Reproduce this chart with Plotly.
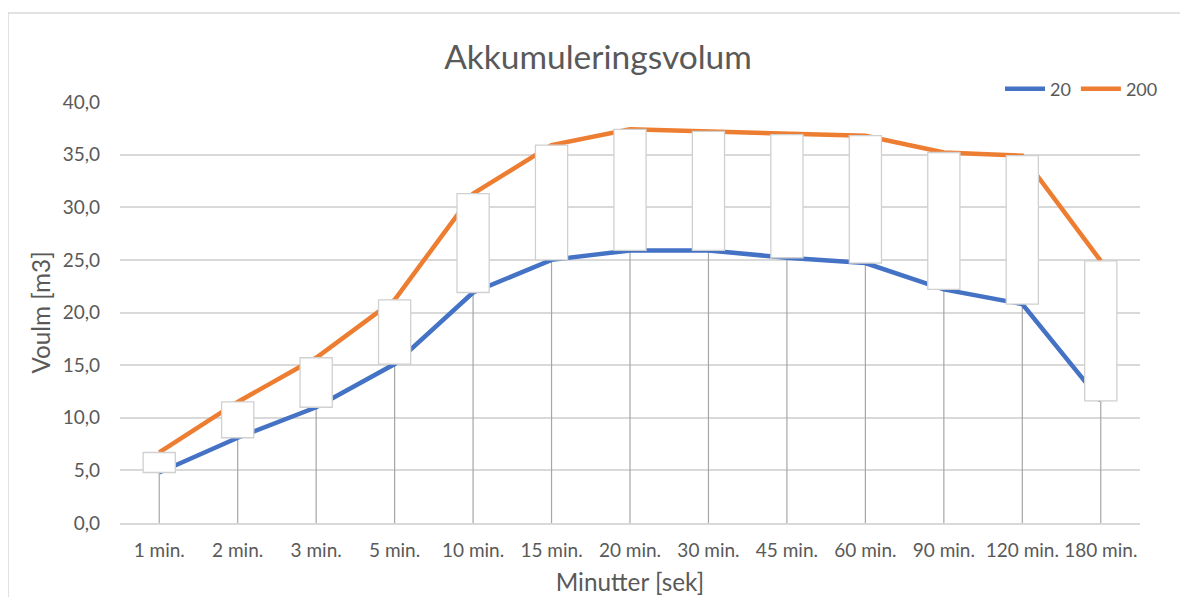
import plotly.graph_objects as go

categories = ["1 min.", "2 min.", "3 min.", "5 min.", "10 min.", "15 min.", "20 min.",
              "30 min.", "45 min.", "60 min.", "90 min.", "120 min.", "180 min."]
series_20 = [4.8, 8.1, 11.0, 15.1, 21.9, 25.0, 25.9, 25.9, 25.2, 24.7, 22.2, 20.8, 11.6]
series_200 = [6.7, 11.5, 15.7, 21.2, 31.3, 35.9, 37.4, 37.2, 36.9, 36.8, 35.2, 34.9, 24.9]
y_ticks = [0, 5, 10, 15, 20, 25, 30, 35, 40]

FONT = "Lato"
GREY_TXT = "#595959"
GRID = "#d9d9d9"

# page body has an 8px margin; figure is sized to fit the window
OFF = 8
W, H = 1188 - OFF, 597 - OFF
# plot area in screen pixels
PX0, PX1, PY0, PY1 = 120, 1140, 102, 523
ML = PX0 - OFF
MR = W - (PX1 - OFF)
MT = PY0 - OFF
MB = H - (PY1 - OFF)

def px_x(px):
    return (px - PX0) / (PX1 - PX0)

def px_y(py):
    return (PY1 - py) / (PY1 - PY0)

fig = go.Figure()

# drop lines (from axis up to the lower series)
fig.add_trace(go.Scatter(
    x=categories, y=series_20, mode="markers",
    marker=dict(size=1, opacity=0),
    error_y=dict(type="data", symmetric=False, array=[0] * len(series_20),
                 arrayminus=series_20, color="#a6a6a6", thickness=1.2, width=0),
    showlegend=False, hoverinfo="skip"))

fig.add_trace(go.Scatter(x=categories, y=series_20, mode="lines", name="20",
                         line=dict(color="#4472C4", width=4.5)))
fig.add_trace(go.Scatter(x=categories, y=series_200, mode="lines", name="200",
                         line=dict(color="#ED7D31", width=4.5)))

# up-down bars, on an overlaid copy of the axes so they sit above the lines
fig.add_trace(go.Bar(
    x=categories, base=series_20,
    y=[b - a for a, b in zip(series_20, series_200)],
    width=0.41, marker=dict(color="white", line=dict(color="#d0d0d0", width=1.3)),
    showlegend=False, hoverinfo="skip", xaxis="x2", yaxis="y2"))

fig.update_layout(
    width=W, height=H,
    margin=dict(l=ML, r=MR, t=MT, b=MB, autoexpand=False),
    paper_bgcolor="white", plot_bgcolor="white",
    separators=",.",
    font=dict(family=FONT, color=GREY_TXT),
    title=dict(text="Akkumuleringsvolum", x=0.5, xref="container", xanchor="center",
               y=1 - (57 - OFF) / H, yanchor="middle",
               font=dict(size=33.5, color=GREY_TXT, family=FONT)),
    legend=dict(orientation="h", x=px_x(1163), xanchor="right", y=px_y(89), yanchor="middle",
                font=dict(size=18, color=GREY_TXT), itemwidth=40, bgcolor="rgba(0,0,0,0)"),
    showlegend=True,
    xaxis=dict(type="category", range=[-0.5, len(categories) - 0.5], automargin=False,
               showgrid=False, showline=True, linecolor=GRID, linewidth=1.5,
               ticks="", tickfont=dict(size=19, color=GREY_TXT), ticklabelstandoff=9,
               title=dict(text="Minutter [sek]", font=dict(size=24.3, color=GREY_TXT), standoff=14)),
    yaxis=dict(range=[0, 40], tickvals=y_ticks, tickformat=".1f", automargin=False,
               showgrid=True, gridcolor=GRID, gridwidth=1.5, zeroline=False,
               showline=False, ticks="", ticklabelstandoff=19,
               tickfont=dict(size=19, color=GREY_TXT),
               title=dict(text="Voulm [m3]", font=dict(size=24.3, color=GREY_TXT), standoff=5)),
    xaxis2=dict(type="category", overlaying="x", range=[-0.5, len(categories) - 0.5],
                visible=False, categoryarray=categories, categoryorder="array"),
    yaxis2=dict(overlaying="y", range=[0, 40], visible=False),
)

# chart-area frame
fig.add_shape(type="rect", xref="paper", yref="paper",
              x0=px_x(8), x1=px_x(1210), y0=px_y(620), y1=px_y(13),
              line=dict(color=GRID, width=1.5), fillcolor="rgba(0,0,0,0)", layer="below")

fig.write_html("out.html")
